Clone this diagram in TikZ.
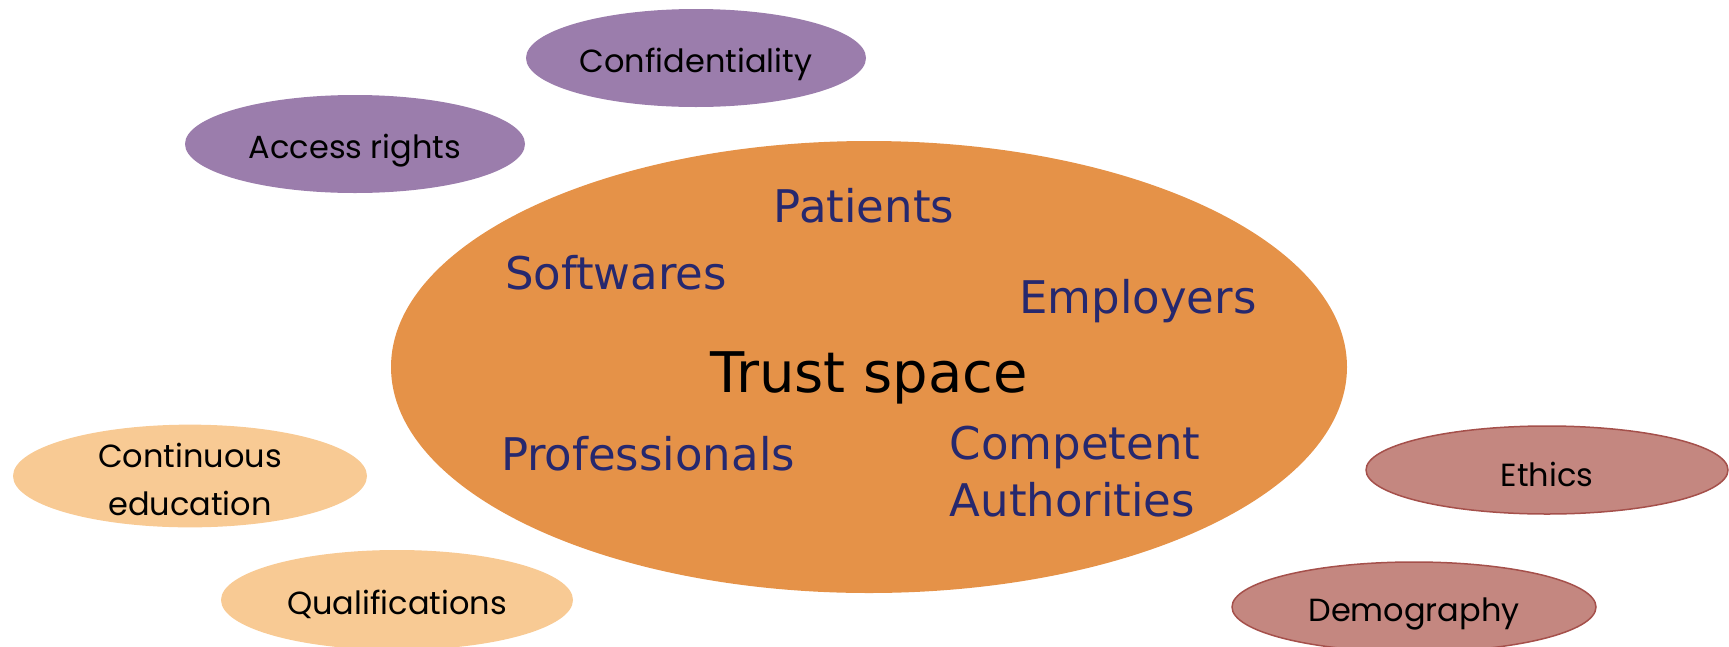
\documentclass[tikz,border=0pt]{standalone}
\usepackage{fontspec}
\usetikzlibrary{shapes.geometric}
\newfontfamily\satfont{Poppins}
\newfontfamily\corefont{DejaVu Sans}
\definecolor{purp}{RGB}{155,125,172}
\definecolor{lorange}{RGB}{248,202,148}
\definecolor{dorange}{RGB}{229,146,72}
\definecolor{rose}{RGB}{196,135,128}
\definecolor{roseline}{RGB}{165,80,75}
\definecolor{navy}{RGB}{38,40,110}
\newcommand{\lowertext}[2]{\raisebox{-#1}[\height][\depth]{#2}}
\tikzset{
  sat/.style={ellipse, inner sep=0pt, font=\satfont\fontsize{32}{48}\selectfont, text=black, align=center},
  purpsat/.style={sat, fill=purp},
  orsat/.style={sat, fill=lorange},
  rosesat/.style={sat, fill=rose, draw=roseline, line width=1.5pt},
  member/.style={font=\corefont\fontsize{45}{57}\selectfont, text=navy, inner sep=0pt, align=left},
}
\begin{document}
\begin{tikzpicture}[x=1pt,y=1pt]
\useasboundingbox (0,0) rectangle (1729,-646);
\node[ellipse, fill=dorange, minimum width=956, minimum height=452, inner sep=0pt] (core) at (869,-367) {};
\node[purpsat, minimum width=340, minimum height=98] (conf) at (696,-58) {\lowertext{6.5pt}{Confidentiality}};
\node[purpsat, minimum width=340, minimum height=98] (access) at (355,-144) {\lowertext{6.5pt}{Access rights}};
\node[orsat, minimum width=354, minimum height=101] (cont) at (190,-476) {\lowertext{3pt}{Continuous}\\\lowertext{3pt}{education}};
\node[orsat, minimum width=352, minimum height=100] (qual) at (397,-600) {\lowertext{4.5pt}{Qualifications}};
\node[rosesat, minimum width=362, minimum height=88] (ethics) at (1547,-470) {\lowertext{4.5pt}{Ethics}};
\node[rosesat, minimum width=364, minimum height=90] (demo) at (1414,-607) {\lowertext{6.5pt}{Demography}};
\node[member] (patients) at (864,-206) {Patients};
\node[member] (soft) at (616,-273) {Softwares};
\node[member] (empl) at (1138,-301) {Employers};
\node[font=\corefont\fontsize{56}{60}\selectfont, text=black, inner sep=0pt] (trust) at (869,-377.5) {Trust space};
\node[member] (prof) at (648,-454) {Professionals};
\node[member] (comp) at (1075,-472) {Competent\\Authorities};
\end{tikzpicture}
\end{document}
